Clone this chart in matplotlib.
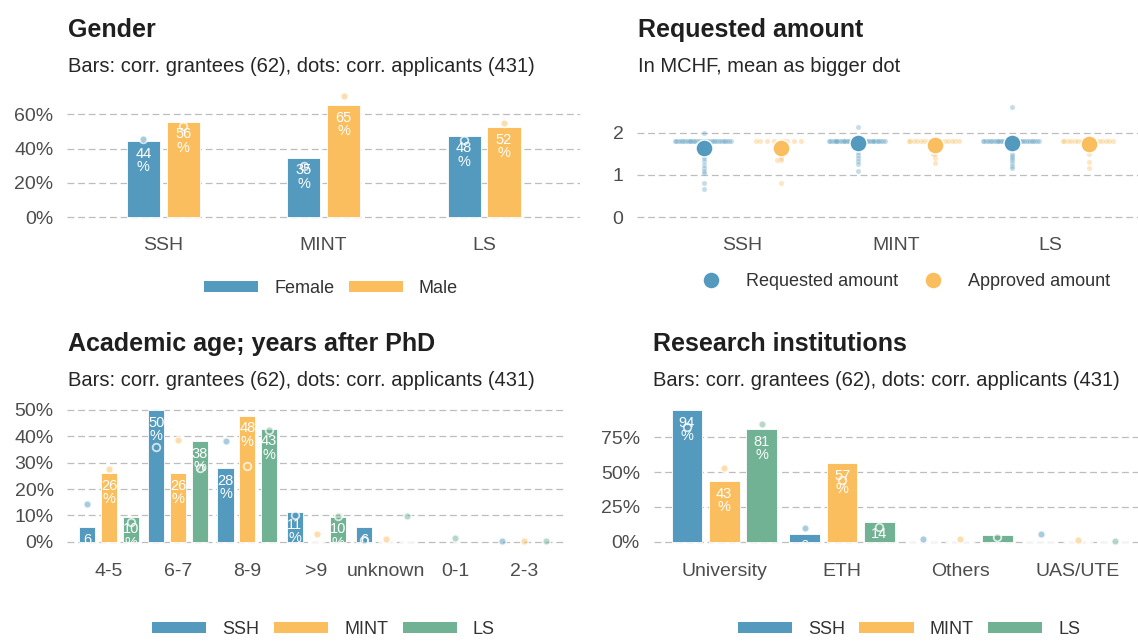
import numpy as np
import matplotlib
matplotlib.use("Agg")
import matplotlib.pyplot as plt
from matplotlib.lines import Line2D
from matplotlib.patches import Patch
from matplotlib.colors import to_rgba
from matplotlib.transforms import ScaledTranslation

plt.rcParams['font.family'] = ['Liberation Sans', 'DejaVu Sans']

W, H = 1138, 641
BLUE, ORANGE, GREEN = "#5499BE", "#FBBE5E", "#71B294"
TICK_C = "#4d4d4d"

# ---- data ----
fields = ["SSH", "MINT", "LS"]

# gender: bars = grantees, dots = applicants (percent)
female_grantees = [44.4, 34.8, 47.6]
male_grantees = [55.6, 65.2, 52.4]
female_applicants = [45.8, 29.7, 44.8]
male_applicants = [53.4, 70.5, 54.9]

# requested / approved amount in MCHF
req_ssh = [1.8] * 34 + [1.99, 1.75, 1.7, 1.65, 1.6, 1.55, 1.5, 1.5, 1.45, 1.4,
                        1.33, 1.24, 1.16, 1.1, 1.05, 0.8, 0.67]
req_mint = [2.14] + [1.8] * 36 + [1.75, 1.7, 1.65, 1.6, 1.55, 1.47, 1.39, 1.33, 1.26, 1.09]
req_ls = [2.6] + [1.8] * 34 + [1.75, 1.7, 1.6, 1.5, 1.45, 1.4, 1.35, 1.28, 1.21, 1.16]
appr_ssh = [1.8] * 9 + [1.75, 1.6, 1.55, 1.5, 1.45, 1.4, 1.35, 1.35, 0.8]
appr_mint = [1.8] * 17 + [1.7, 1.6, 1.5, 1.5, 1.39, 1.28]
appr_ls = [1.8] * 17 + [1.6, 1.5, 1.3, 1.17]
req_mean = [1.63, 1.75, 1.76]
appr_mean = [1.63, 1.71, 1.73]

# academic age
age_cats = ["4-5", "6-7", "8-9", ">9", "unknown", "0-1", "2-3"]
age_ssh = [5.6, 50.0, 27.8, 11.1, 5.6, None, None]
age_mint = [26.1, 26.1, 47.8, 0, 0, None, None]
age_ls = [9.5, 38.1, 42.9, 9.5, 0, None, None]
age_ssh_app = [14.2, 35.8, 38.2, 10.1, 0.6, None, 0.4]
age_mint_app = [27.6, 38.6, 28.9, 2.9, 1.0, None, 0.4]
age_ls_app = [7.4, 28.1, 42.4, 9.9, 9.9, 1.3, 0.4]

# research institutions
inst_cats = ["University", "ETH", "Others", "UAS/UTE"]
inst_ssh = [94.4, 5.6, 0, 0]
inst_mint = [43.48, 56.52, 0, 0]
inst_ls = [81.0, 14.3, 4.8, 0]
inst_ssh_app = [82.2, 10.0, 2.0, 5.3]
inst_mint_app = [52.7, 44.3, 2.0, 1.2]
inst_ls_app = [84.3, 10.8, 3.2, 0.7]

fig = plt.figure(figsize=(W / 100, H / 100), dpi=100)


def px_axes(left, right, y_a, v_a, y_b, v_b, ylim):
    s = (y_a - y_b) / (v_b - v_a)
    bottom = y_a + (v_a - ylim[0]) * s
    top = y_a - (ylim[1] - v_a) * s
    ax = fig.add_axes([left / W, 1 - bottom / H, (right - left) / W, (bottom - top) / H])
    ax.set_ylim(*ylim)
    return ax


def style(ax, xlim, cats, yticks, ylabels, xpad):
    ax.set_xlim(*xlim)
    ax.set_xticks(range(len(cats)))
    ax.set_xticklabels(cats)
    ax.set_yticks(yticks)
    ax.set_yticklabels(ylabels)
    for s in ax.spines.values():
        s.set_visible(False)
    ax.tick_params(length=0, labelsize=14, labelcolor=TICK_C)
    ax.tick_params(axis='x', pad=xpad)
    ax.tick_params(axis='y', pad=9.8)
    ax.grid(axis='y', color='#bdbdbd', linewidth=0.9, linestyle=(0, (5.5, 3)))
    ax.grid(axis='x', visible=False)
    ax.set_axisbelow(True)


def bars_dots(ax, series, width, offsets):
    n = len(series[0][1])
    for i in range(n):
        present = [k for k, (c, b, d) in enumerate(series) if d[i] is not None]
        for k, (col, bvals, dvals) in enumerate(series):
            off = offsets[k]
            if bvals[i] is not None:
                bc = ax.bar(i + off, bvals[i], width, color=col, edgecolor='white',
                            linewidth=0.6, zorder=2)
                if bvals[i] > 0:
                    t = ax.text(i + off, bvals[i], f"{bvals[i]:.0f}\n%", ha='center',
                                va='top', color='white', fontsize=10.5, linespacing=0.95,
                                zorder=5,
                                transform=ax.transData + ScaledTranslation(0, -4 / 72, fig.dpi_scale_trans))
                    t.set_clip_on(True)
                    t.set_clip_path(bc.patches[0])
            if dvals[i] is not None:
                doff = off if len(present) > 1 else 0
                ax.scatter([i + doff], [dvals[i]], s=30, facecolor=to_rgba(col, 0.5),
                           edgecolor=(1, 1, 1, 0.75), linewidth=1.3, zorder=4, clip_on=False)


def vdc(k):
    v, denom = 0.0, 1.0
    while k:
        denom *= 2
        k, r = divmod(k, 2)
        v += r / denom
    return v


def quasi_offsets(values, width):
    v = np.asarray(values, dtype=float)
    counts = np.array([np.sum(np.abs(v - x) < 0.03) for x in v])
    dens = counts / counts.max()
    seen = {}
    offs = np.zeros(len(v))
    for j, x in enumerate(v):
        key = round(x, 2)
        k = seen.get(key, 0) + 1
        seen[key] = k
        offs[j] = (vdc(k) * 2 - 1) * width * dens[j]
    return offs


def legend_patches(labels, colors, cx, cy):
    handles = [Patch(facecolor=c, edgecolor='none') for c in colors]
    fig.legend(handles, labels, loc='center', bbox_to_anchor=(cx / W, 1 - cy / H),
               ncol=len(labels), frameon=False, fontsize=13, handlelength=3.0,
               handleheight=0.515, handletextpad=0.89, columnspacing=0.8,
               labelcolor='#333333')


def titles(x, ybase, title, sub):
    fig.text(x / W, 1 - ybase / H, title, fontsize=18, fontweight='bold',
             color='#1f1f1f', va='baseline', ha='left')
    fig.text(x / W, 1 - (ybase + 35) / H, sub, fontsize=14.5, color='#262626',
             va='baseline', ha='left')


sub_bd = "Bars: corr. grantees (62), dots: corr. applicants (431)"

# ---- panel 1: Gender ----
ax1 = px_axes(67, 580.3, 217.3, 0, 114.3, 60, (-2, 75))
style(ax1, (-0.6, 2.6), fields, [0, 20, 40, 60], ["0%", "20%", "40%", "60%"], 11.8)
bars_dots(ax1, [(BLUE, female_grantees, female_applicants),
                (ORANGE, male_grantees, male_applicants)], 0.207, [-0.124, 0.124])
titles(68, 36.7, "Gender", sub_bd)
legend_patches(["Female", "Male"], [BLUE, ORANGE], 331, 288.5)

# ---- panel 2: Requested amount ----
ax2 = px_axes(637, 1138, 217.3, 0, 132.5, 2, (-0.06, 2.75))
style(ax2, ((637 - 742) / 154, (1138 - 742) / 154), fields, [0, 1, 2], ["0", "1", "2"], 12.5)
for i, (rv, av) in enumerate([(req_ssh, appr_ssh), (req_mint, appr_mint), (req_ls, appr_ls)]):
    ax2.scatter(i - 0.25 + quasi_offsets(rv, 0.19), rv, s=14, color=BLUE, alpha=0.33,
                edgecolor='white', linewidth=0.3, zorder=3)
    ax2.scatter(i + 0.25 + quasi_offsets(av, 0.18), av, s=14, color=ORANGE, alpha=0.38,
                edgecolor='white', linewidth=0.3, zorder=3)
ax2.scatter(np.arange(3) - 0.25, req_mean, s=150, color=BLUE, edgecolor='white',
            linewidth=1, zorder=5)
ax2.scatter(np.arange(3) + 0.25, appr_mean, s=150, color=ORANGE, edgecolor='white',
            linewidth=1, zorder=5)
titles(638, 36.7, "Requested amount", "In MCHF, mean as bigger dot")
h2 = [Line2D([], [], marker='o', linestyle='', markersize=12.2, markerfacecolor=c,
             markeredgecolor='white') for c in (BLUE, ORANGE)]
fig.legend(h2, ["Requested amount", "Approved amount"], loc='center',
           bbox_to_anchor=(906 / W, 1 - 282 / H), ncol=2, frameon=False, fontsize=13,
           handlelength=1.0, handletextpad=1.42, columnspacing=1.42, labelcolor='#333333')

# ---- panel 3: Academic age ----
ax3 = px_axes(67.4, 565.6, 541.7, 0, 410, 50, (-1.5, 53))
style(ax3, (-0.6, 6.6), age_cats, [0, 10, 20, 30, 40, 50],
      ["0%", "10%", "20%", "30%", "40%", "50%"], 12.5)
bars_dots(ax3, [(BLUE, age_ssh, age_ssh_app), (ORANGE, age_mint, age_mint_app),
                (GREEN, age_ls, age_ls_app)], 0.236, [-0.315, 0, 0.315])
titles(68, 351.3, "Academic age; years after PhD", sub_bd)
legend_patches(fields, [BLUE, ORANGE, GREEN], 323.5, 629.5)

# ---- panel 4: Research institutions ----
ax4 = px_axes(653.5, 1138, 541.7, 0, 437.3, 75, (-2, 97))
style(ax4, (-0.6, (1138 - 724.2) / 117.9), inst_cats, [0, 25, 50, 75],
      ["0%", "25%", "50%", "75%"], 13.4)
bars_dots(ax4, [(BLUE, inst_ssh, inst_ssh_app), (ORANGE, inst_mint, inst_mint_app),
                (GREEN, inst_ls, inst_ls_app)], 0.26, [-0.317, 0, 0.317])
titles(653, 351.3, "Research institutions", sub_bd)
legend_patches(fields, [BLUE, ORANGE, GREEN], 909, 629.5)

fig.savefig("out.png", dpi=100, facecolor='white')
